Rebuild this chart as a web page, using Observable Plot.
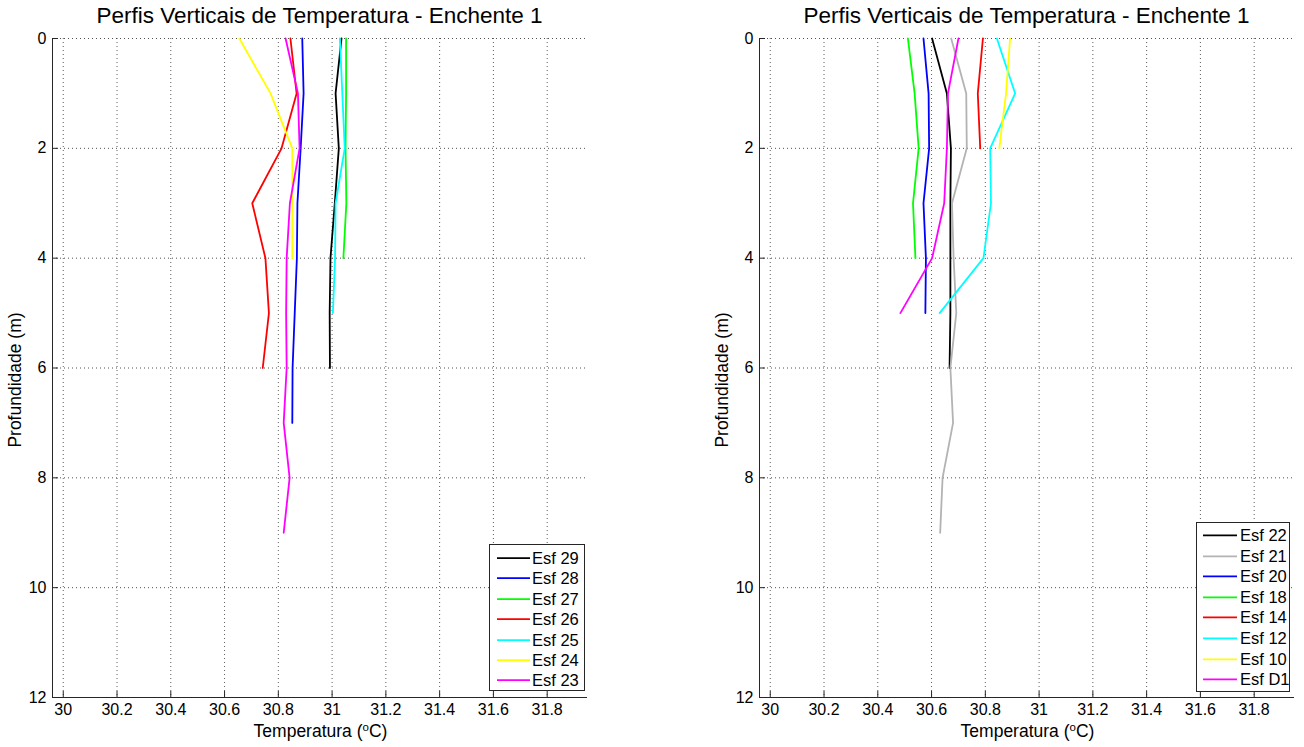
<!DOCTYPE html>
<html>
<head>
<meta charset="utf-8">
<script src="https://cdn.jsdelivr.net/npm/d3@7"></script>
<script src="https://cdn.jsdelivr.net/npm/@observablehq/plot@0.6"></script>
<style>
  html, body { margin: 0; padding: 0; background: #fff; }
  body { font-family: "Liberation Sans", Arial, Helvetica, sans-serif; color: #000; }
  #root { position: relative; width: 1304px; height: 747px; overflow: hidden; }
  .panel { position: absolute; top: 0; width: 652px; height: 747px; }
  .panel svg { position: absolute; left: 0; top: 0; }
  .title { position: absolute; top: 5px; font-size: 22.5px; line-height: 22.5px; white-space: nowrap; transform: translateX(-50%); }
  .xlabel { position: absolute; top: 723px; font-size: 17.5px; line-height: 17.5px; white-space: nowrap; transform: translateX(-50%); }
  .xlabel sup { font-size: 11.5px; vertical-align: 6px; line-height: 0; }
  .ylabel { position: absolute; font-size: 17.5px; line-height: 17.5px; white-space: nowrap; transform: translate(-50%, -50%) rotate(-90deg); }
  .legend { position: absolute; background: #fff; border: 1px solid #262626; box-sizing: border-box; }
  .legend .row { position: absolute; left: 0; right: 0; font-size: 16.5px; white-space: nowrap; }
  .legend .row svg { position: absolute; top: 0; }
  .legend .row span { position: absolute; }
</style>
</head>
<body>
<div id="root"></div>
<script>
// ---------- data ----------
const xTicks = [30, 30.2, 30.4, 30.6, 30.8, 31, 31.2, 31.4, 31.6, 31.8];
const yTicks = [0, 2, 4, 6, 8, 10, 12];
const xDomain = [29.96, 31.95];
const yDomain = [0, 12];
const depthLevels = [0, 1, 2, 3, 4, 5, 6, 7, 8, 9];

const chartTitle = "Perfis Verticais de Temperatura - Enchente 1";
const yLabelText = "Profundidade (m)";

// Left panel series (temperature at depth 0,1,2,... m)
const leftNames = ["Esf 29", "Esf 28", "Esf 27", "Esf 26", "Esf 25", "Esf 24", "Esf 23"];
const leftColors = ["#000000", "#0000ff", "#00ff00", "#ff0000", "#00ffff", "#ffff00", "#ff00ff"];
const esf29 = [31.035, 31.013, 31.025, 31.010, 30.994, 30.991, 30.992];
const esf28 = [30.889, 30.894, 30.883, 30.871, 30.869, 30.861, 30.853, 30.852];
const esf27 = [31.052, 31.052, 31.050, 31.053, 31.042];
const esf26 = [30.845, 30.868, 30.812, 30.703, 30.752, 30.765, 30.742];
const esf25 = [31.029, 31.038, 31.047, 31.013, 31.011, 31.003];
const esf24 = [30.655, 30.771, 30.852, 30.852, 30.852];
const esf23 = [30.827, 30.873, 30.879, 30.843, 30.831, 30.829, 30.831, 30.820, 30.842, 30.820];
const leftValues = [esf29, esf28, esf27, esf26, esf25, esf24, esf23];

// Right panel series
const rightNames = ["Esf 22", "Esf 21", "Esf 20", "Esf 18", "Esf 14", "Esf 12", "Esf 10", "Esf D1"];
const rightColors = ["#000000", "#b3b3b3", "#0000ff", "#00ff00", "#ff0000", "#00ffff", "#ffff00", "#ff00ff"];
const esf22 = [30.602, 30.657, 30.672, 30.670, 30.670, 30.670, 30.667];
const esf21 = [30.673, 30.729, 30.731, 30.676, 30.682, 30.692, 30.670, 30.680, 30.641, 30.632];
const esf20 = [30.570, 30.589, 30.591, 30.570, 30.579, 30.577];
const esf18 = [30.512, 30.537, 30.552, 30.531, 30.540];
const esf14 = [30.791, 30.772, 30.781];
const esf12 = [30.843, 30.911, 30.818, 30.821, 30.793, 30.630];
const esf10 = [30.892, 30.877, 30.852];
const esfD1 = [30.700, 30.661, 30.657, 30.647, 30.602, 30.484];
const rightValues = [esf22, esf21, esf20, esf18, esf14, esf12, esf10, esfD1];

// ---------- layout ----------
const W = 652, H = 747, MT = 38, MB = 50;
const panels = [
  { left: 0, ml: 52, mr: 65, names: leftNames, colors: leftColors, values: leftValues,
    ylabelX: 16, legend: { x: 489, y: 544, w: 96, h: 147, pad: 3, rowH: 20.4, lx: 7, lw: 33, tx: 42 } },
  { left: 652, ml: 107, mr: 10, names: rightNames, colors: rightColors, values: rightValues,
    ylabelX: 723 - 652, legend: { x: 1196, y: 522, w: 94, h: 170, pad: 2, rowH: 20.6, lx: 6, lw: 34, tx: 43 } }
];

const root = document.getElementById("root");
const font = '"Liberation Sans", Arial, Helvetica, sans-serif';

for (const p of panels) {
  const div = document.createElement("div");
  div.className = "panel";
  div.style.left = p.left + "px";
  root.appendChild(div);

  const plotW = W - p.ml - p.mr;
  const plotH = H - MT - MB;
  const axisColor = "#262626";

  const lineMarks = p.values.map((vals, i) =>
    Plot.line(vals, { x: d => d, y: (d, j) => depthLevels[j], stroke: p.colors[i], strokeWidth: 1.8 })
  );

  const chart = Plot.plot({
    width: W, height: H,
    marginTop: MT, marginBottom: MB, marginLeft: p.ml, marginRight: p.mr,
    style: { fontFamily: font, fontSize: "16px", color: "#000", background: "transparent", overflow: "visible" },
    x: { domain: xDomain },
    y: { domain: yDomain, reverse: true },
    marks: [
      Plot.gridX(xTicks, { stroke: "#333", strokeOpacity: 0.8, strokeDasharray: "1,3" }),
      Plot.gridY(yTicks, { stroke: "#333", strokeOpacity: 0.85, strokeDasharray: "1,3" }),
      ...lineMarks,
      Plot.ruleX([xDomain[0]], { stroke: axisColor, strokeWidth: 1 }),
      Plot.ruleY([yDomain[1]], { stroke: axisColor, strokeWidth: 1 }),
      Plot.tickX(xTicks, { x: d => d, insetTop: plotH - 6, stroke: axisColor }),
      Plot.tickY(yTicks, { y: d => d, insetRight: plotW - 6, stroke: axisColor }),
      Plot.axisX(xTicks, { anchor: "bottom", tickSize: 0, tickPadding: 6, tickFormat: d => String(d), fontSize: 16, label: null }),
      Plot.axisY(yTicks, { anchor: "left", tickSize: 0, tickPadding: 6, tickFormat: d => String(d), fontSize: 16, label: null })
    ]
  });
  div.appendChild(chart);

  const cx = p.ml + plotW / 2;

  const t = document.createElement("div");
  t.className = "title";
  t.style.left = cx + "px";
  t.textContent = chartTitle;
  div.appendChild(t);

  const xl = document.createElement("div");
  xl.className = "xlabel";
  xl.style.left = (cx + 1) + "px";
  xl.innerHTML = "Temperatura (<sup>o</sup>C)";
  div.appendChild(xl);

  const yl = document.createElement("div");
  yl.className = "ylabel";
  yl.style.left = p.ylabelX + "px";
  yl.style.top = (MT + plotH / 2 + 12) + "px";
  yl.textContent = yLabelText;
  div.appendChild(yl);

  // legend
  const L = p.legend;
  const lg = document.createElement("div");
  lg.className = "legend";
  lg.style.left = (L.x - p.left) + "px";
  lg.style.top = L.y + "px";
  lg.style.width = L.w + "px";
  lg.style.height = L.h + "px";
  p.names.forEach((name, i) => {
    const row = document.createElement("div");
    row.className = "row";
    row.style.top = (L.pad + i * L.rowH) + "px";
    row.style.height = L.rowH + "px";
    row.style.lineHeight = L.rowH + "px";
    const sw = document.createElementNS("http://www.w3.org/2000/svg", "svg");
    sw.setAttribute("width", L.lw);
    sw.setAttribute("height", L.rowH);
    sw.style.left = L.lx + "px";
    const ln = document.createElementNS("http://www.w3.org/2000/svg", "line");
    ln.setAttribute("x1", 0); ln.setAttribute("x2", L.lw);
    ln.setAttribute("y1", L.rowH / 2); ln.setAttribute("y2", L.rowH / 2);
    ln.setAttribute("stroke", p.colors[i]);
    ln.setAttribute("stroke-width", 1.8);
    sw.appendChild(ln);
    row.appendChild(sw);
    const sp = document.createElement("span");
    sp.style.left = L.tx + "px";
    sp.textContent = name;
    row.appendChild(sp);
    lg.appendChild(row);
  });
  div.appendChild(lg);
}
</script>
</body>
</html>
